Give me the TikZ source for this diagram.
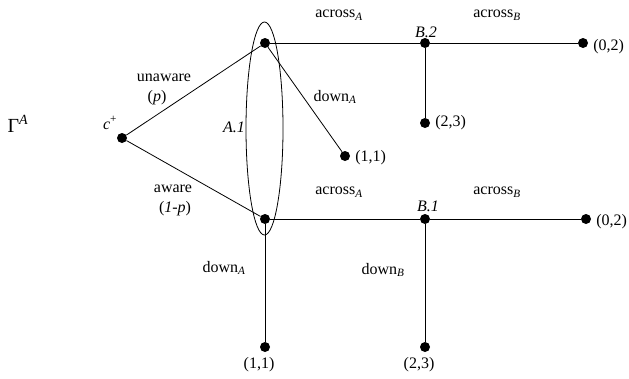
\documentclass[tikz,border=0pt]{standalone}
\usepackage{fontspec}
\setmainfont{Liberation Serif}
\usetikzlibrary{positioning}

\begin{document}
\begin{tikzpicture}[
    x=1pt, y=-1pt,
    font=\fontsize{16}{18}\selectfont,
    dot/.style={circle, fill=black, inner sep=0pt, minimum size=10pt},
    branch/.style={line width=0.8pt},
    infoset/.style={line width=0.8pt},
    act/.style={inner sep=1pt},
    payoff/.style={inner sep=1pt},
]
\useasboundingbox (0,0) rectangle (629,378);

% ============================================================
% Decision nodes and terminal nodes
% ============================================================
\node[dot] (chance) at (122,138) {};
\node[dot] (a2)     at (265,43)  {};
\node[dot] (a1)     at (265,219) {};
\node[dot] (b2)     at (425,43)  {};
\node[dot] (b1)     at (425,219) {};

\node[dot] (t2across) at (583,43)  {};
\node[dot] (t2downB)  at (425,123) {};
\node[dot] (t2downA)  at (345,156) {};
\node[dot] (t1across) at (586,219) {};
\node[dot] (t1downB)  at (425,347) {};
\node[dot] (t1downA)  at (265,347) {};

% ============================================================
% Branches
% ============================================================
\draw[branch] (chance) -- (a2);
\draw[branch] (chance) -- (a1);
\draw[branch] (a2) -- (b2);
\draw[branch] (b2) -- (t2across);
\draw[branch] (b2) -- (t2downB);
\draw[branch] (a2) -- (t2downA);
\draw[branch] (a1) -- (b1);
\draw[branch] (b1) -- (t1across);
\draw[branch] (b1) -- (t1downB);
\draw[branch] (a1) -- (t1downA);

% information set of A
\draw[infoset] (264.5,128.5) ellipse (18.5pt and 106.5pt);

% ============================================================
% Labels
% ============================================================
\node (game) at (18,124) {\fontsize{20}{22}\selectfont Γ\textsuperscript{\textit{A}}};
\node[act] (clbl) at (110,123) {\textit{c}\textsuperscript{+}};
\node[act] (a1lbl) at (234,127) {\textit{A.1}};
\node[act] (b2lbl) at (426,32) {\textit{B.2}};
\node[act] (b1lbl) at (428,206) {\textit{B.1}};

\node[act] at (164,78)  {unaware};
\node[act] at (157,98)  {(\textit{p})};
\node[act] at (173,189) {aware};
\node[act] at (175,209) {(\textit{1-p})};

\node[act] at (339,15)  {across\textsubscript{\textit{A}}};
\node[act] at (497,15)  {across\textsubscript{\textit{B}}};
\node[act] at (335,97)  {down\textsubscript{\textit{A}}};
\node[act] at (339,192) {across\textsubscript{\textit{A}}};
\node[act] at (497,192) {across\textsubscript{\textit{B}}};
\node[act] at (224,268) {down\textsubscript{\textit{A}}};
\node[act] at (383,270) {down\textsubscript{\textit{B}}};

% payoffs
\node[payoff, right=4pt of t2across, yshift=-4pt] {(0,2)};
\node[payoff, right=4pt of t2downB]  {(2,3)};
\node[payoff, right=4pt of t2downA, yshift=-2pt]  {(1,1)};
\node[payoff, right=4pt of t1across, yshift=-3pt] {(0,2)};
\node[payoff, below=4pt of t1downB, xshift=-6pt]  {(2,3)};
\node[payoff, below=4pt of t1downA, xshift=-6pt]  {(1,1)};

\end{tikzpicture}
\end{document}
